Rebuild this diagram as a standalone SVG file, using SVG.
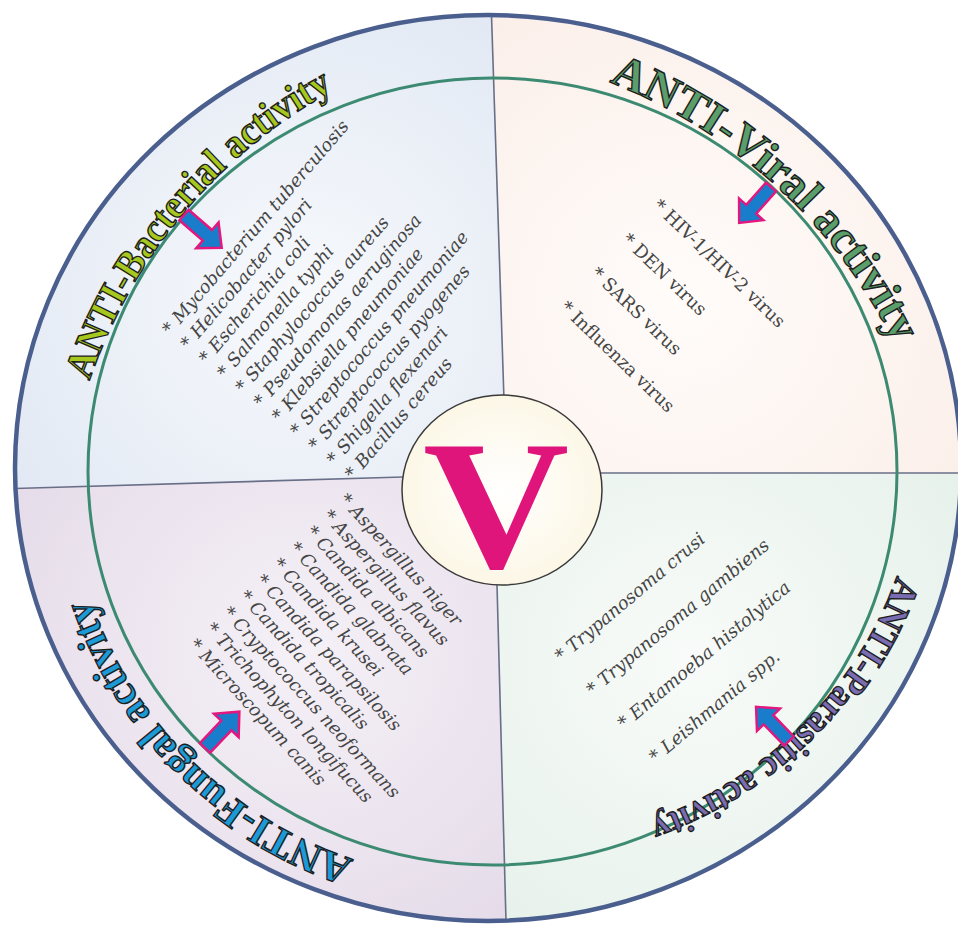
<svg xmlns="http://www.w3.org/2000/svg" xmlns:xlink="http://www.w3.org/1999/xlink" width="958" height="926" viewBox="0 0 958 926">
<style>
.title{font-family:"Liberation Serif","Times New Roman",serif;font-weight:bold;stroke:#1e1e1e;stroke-width:1.4;}
.list{font-family:"DejaVu Serif",Georgia,serif;font-size:18px;fill:#454545;}
.it{font-style:italic;}
.divider{stroke:#6a6f88;stroke-width:1.6;fill:none;}
</style>
<defs>
<clipPath id="clipOuter"><ellipse cx="488" cy="468" rx="473" ry="453"/></clipPath>
<radialGradient id="gTL" gradientUnits="userSpaceOnUse" cx="300" cy="300" r="340"><stop offset="0" stop-color="#f7f9fc"/><stop offset="1" stop-color="#e2e9f4"/></radialGradient>
<radialGradient id="gTR" gradientUnits="userSpaceOnUse" cx="680" cy="300" r="340"><stop offset="0" stop-color="#fffcfa"/><stop offset="1" stop-color="#fbefe9"/></radialGradient>
<radialGradient id="gBL" gradientUnits="userSpaceOnUse" cx="300" cy="650" r="340"><stop offset="0" stop-color="#f5f1f7"/><stop offset="1" stop-color="#e5dbe9"/></radialGradient>
<radialGradient id="gBR" gradientUnits="userSpaceOnUse" cx="690" cy="660" r="340"><stop offset="0" stop-color="#f8fbf9"/><stop offset="1" stop-color="#e6f1ea"/></radialGradient>
<radialGradient id="gC" cx="0.5" cy="0.5" r="0.5"><stop offset="0" stop-color="#ffffff"/><stop offset="1" stop-color="#fcf7e6"/></radialGradient>
<path id="arrow" d="M0,-7 H31 V-17 L50,0 L31,17 V7 H0 Z" fill="#1a7dcc" stroke="#e3177d" stroke-width="2.5"/>
<path id="pBact" d="M64,502.5 A522,522 0 0 1 448.9,43.8"/>
<path id="pViral" d="M484.2,49.9 A536,536 0 0 1 937.6,465.3"/>
<path id="pFung" d="M414.1,875.1 A422,412 0 0 1 74.8,538.0"/>
<path id="pPara" d="M914.1,510.7 A410,400 0 0 1 584.4,838.0"/>
</defs>

<g id="background">
  <g clip-path="url(#clipOuter)">
    <polygon points="0,0 491,0 505,420 502,490 400,477 0,489" fill="url(#gTL)"/>
    <polygon points="491,0 958,0 958,473 600,473 502,490 505,420" fill="url(#gTR)"/>
    <polygon points="600,473 958,473 958,926 506,926 497,587 502,490" fill="url(#gBR)"/>
    <polygon points="0,489 400,477 502,490 497,587 506,926 0,926" fill="url(#gBL)"/>
  </g>
  <line class="divider" x1="491.5" y1="15" x2="504" y2="400"/>
  <line class="divider" x1="497" y1="585" x2="506" y2="921"/>
  <line class="divider" x1="15" y1="488.5" x2="403" y2="477"/>
  <line class="divider" x1="600" y1="473" x2="958" y2="473"/>
  <ellipse cx="492.5" cy="471.5" rx="404.5" ry="393.5" fill="none" stroke="#3d8a72" stroke-width="3"/>
  <ellipse cx="488" cy="468" rx="473" ry="453" fill="none" stroke="#4b5f8f" stroke-width="4.5"/>
</g>

<g id="node-center">
  <ellipse cx="502" cy="490" rx="100" ry="95" fill="url(#gC)" stroke="#3a3a3a" stroke-width="1.5"/>
  <text transform="translate(496,567) scale(1.1,1)" x="0" y="0" text-anchor="middle" font-family="'Liberation Serif','Times New Roman',serif" font-weight="bold" font-size="184" fill="#e0157b">V</text>
</g>

<g id="node-bacterial">
  <text class="title" font-size="40" fill="#a6c81e"><textPath href="#pBact" startOffset="50%" text-anchor="middle" textLength="388" lengthAdjust="spacingAndGlyphs">ANTI-Bacterial activity</textPath></text>
  <text class="list it" transform="translate(170.6,335.8) rotate(-49.4)">
    <tspan x="0" y="0">* Mycobacterium tuberculosis</tspan>
    <tspan x="0.9" dy="23.3">* Helicobacter pylori</tspan>
    <tspan x="1.8" dy="23.3">* Escherichia coli</tspan>
    <tspan x="2.7" dy="23.3">* Salmonella typhi</tspan>
    <tspan x="3.6" dy="23.3">* Staphylococcus aureus</tspan>
    <tspan x="4.5" dy="23.3">* Pseudomonas aeruginosa</tspan>
    <tspan x="5.4" dy="23.3">* Klebsiella pneumoniae</tspan>
    <tspan x="6.3" dy="23.3">* Streptococcus pneumoniae</tspan>
    <tspan x="7.2" dy="23.3">* Streptococcus pyogenes</tspan>
    <tspan x="8.1" dy="23.3">* Shigella flexenari</tspan>
    <tspan x="9" dy="23.3">* Bacillus cereus</tspan>
  </text>
</g>

<g id="node-viral">
  <text class="title" font-size="46" fill="#5a9e6c"><textPath href="#pViral" startOffset="50%" text-anchor="middle" textLength="396" lengthAdjust="spacingAndGlyphs">ANTI-Viral activity</textPath></text>
  <text class="list" transform="translate(652,207) rotate(44)">
    <tspan x="0" y="0">* HIV-1/HIV-2 virus</tspan>
    <tspan x="1.3" dy="45.9">* DEN virus</tspan>
    <tspan x="2.6" dy="45.9">* SARS virus</tspan>
    <tspan x="3.9" dy="45.9">* Influenza virus</tspan>
  </text>
</g>

<g id="node-fungal">
  <text class="title" font-size="42" fill="#1c9ad8"><textPath href="#pFung" startOffset="50%" text-anchor="middle" textLength="384" lengthAdjust="spacingAndGlyphs">ANTI-Fungal activity</textPath></text>
  <text class="list it" transform="translate(338.6,500.6) rotate(47.5)">
    <tspan x="0" y="0">* Aspergillus niger</tspan>
    <tspan x="0.6" dy="23.2">* Aspergillus flavus</tspan>
    <tspan x="1.2" dy="23.2">* Candida albicans</tspan>
    <tspan x="1.8" dy="23.2">* Candida glabrata</tspan>
    <tspan x="2.4" dy="23.2">* Candida krusei</tspan>
    <tspan x="3" dy="23.2">* Candida parapsilosis</tspan>
    <tspan x="3.6" dy="23.2">* Candida tropicalis</tspan>
    <tspan x="4.2" dy="23.2">* Cryptococcus neoformans</tspan>
    <tspan x="4.8" dy="23.2">* Trichophyton longifucus</tspan>
    <tspan x="5.4" dy="23.2">* Microscopum canis</tspan>
  </text>
</g>

<g id="node-parasitic">
  <text class="title" font-size="37" fill="#7a6cb2"><textPath href="#pPara" startOffset="50%" text-anchor="middle" textLength="360" lengthAdjust="spacingAndGlyphs">ANTI-Parasitic activity</textPath></text>
  <text class="list it" transform="translate(561.4,662.6) rotate(-40)">
    <tspan x="0" y="0">* Trypanosoma crusi</tspan>
    <tspan x="2.5" dy="46">* Trypanosoma gambiens</tspan>
    <tspan x="5" dy="46">* Entamoeba histolytica</tspan>
    <tspan x="7.5" dy="46">* Leishmania spp.</tspan>
  </text>
</g>

<g id="connectors">
  <use href="#arrow" transform="translate(184,215) rotate(41)"/>
  <use href="#arrow" transform="translate(771,187) rotate(131.6) scale(0.96)"/>
  <use href="#arrow" transform="translate(205,748) rotate(-46.6)"/>
  <use href="#arrow" transform="translate(789,741) rotate(-134) scale(0.95)"/>
</g>
</svg>
